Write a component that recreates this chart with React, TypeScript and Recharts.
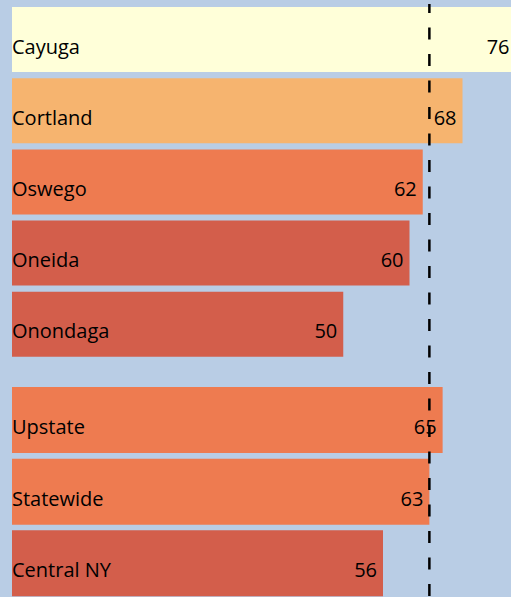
import { BarChart, Bar, XAxis, YAxis, Cell, LabelList, ReferenceLine } from "recharts";

// counties
const countyNames = ["Cayuga", "Cortland", "Oswego", "Oneida", "Onondaga"];
const countyValues = [76, 68, 62, 60, 50];

// regional comparisons
const regionNames = ["Upstate", "Statewide", "Central NY"];
const regionValues = [65, 63, 56];

const benchmark = 63;

const countyColors = ["#FFFFD9", "#F6B46F", "#EE7B50", "#D35E4B", "#D35E4B"];
const regionColors = ["#EE7B50", "#EE7B50", "#D35E4B"];

const BG = "#B9CDE5";
const FONT = "'Open Sans', 'Noto Sans', sans-serif";

const countyData = countyNames.map((name, i) => ({ name, value: countyValues[i] }));
const regionData = regionNames.map((name, i) => ({ name, value: regionValues[i] }));

const nameLabel = (props: any) => {
  const { x, y, height, value } = props;
  return (
    <text x={x} y={y + height / 2 + 14} fontSize={20} fontFamily={FONT} fill="#000">
      {value}
    </text>
  );
};

const valueLabel = (props: any) => {
  const { x, y, width, height, value } = props;
  return (
    <text
      x={x + width - 6}
      y={y + height / 2 + 14}
      fontSize={20}
      fontFamily={FONT}
      fill="#000"
      textAnchor="end"
    >
      {value}
    </text>
  );
};

function Panel({
  data,
  colors,
  height,
  padBottom,
  dashOffset,
}: {
  data: { name: string; value: number }[];
  colors: string[];
  height: number;
  padBottom: number;
  dashOffset: number;
}) {
  return (
    <BarChart
      width={542}
      height={height}
      data={data}
      layout="vertical"
      margin={{ top: 0, right: 0, bottom: 0, left: 12 }}
      barCategoryGap={3}
    >
      <XAxis type="number" domain={[0, 80]} hide />
      <YAxis type="category" dataKey="name" hide padding={{ top: 0, bottom: padBottom }} />
      <Bar dataKey="value" isAnimationActive={false}>
        {data.map((_, i) => (
          <Cell key={`c-${i}`} fill={colors[i % colors.length]} />
        ))}
        <LabelList dataKey="name" content={nameLabel} />
        <LabelList dataKey="value" content={valueLabel} />
      </Bar>
      <ReferenceLine
        x={benchmark}
        stroke="#000"
        strokeWidth={2.5}
        strokeDasharray="12 14.5"
        strokeDashoffset={dashOffset}
      />
    </BarChart>
  );
}

export default function App() {
  return (
    <div
      style={{
        position: "fixed",
        left: 0,
        top: 0,
        width: 511,
        height: 597,
        overflow: "hidden",
        background: BG,
      }}
    >
      <div style={{ height: 4 }} />
      <Panel data={countyData} colors={countyColors} height={380} padBottom={24} dashOffset={0} />
      <Panel data={regionData} colors={regionColors} height={215} padBottom={0} dashOffset={23.5} />
    </div>
  );
}
